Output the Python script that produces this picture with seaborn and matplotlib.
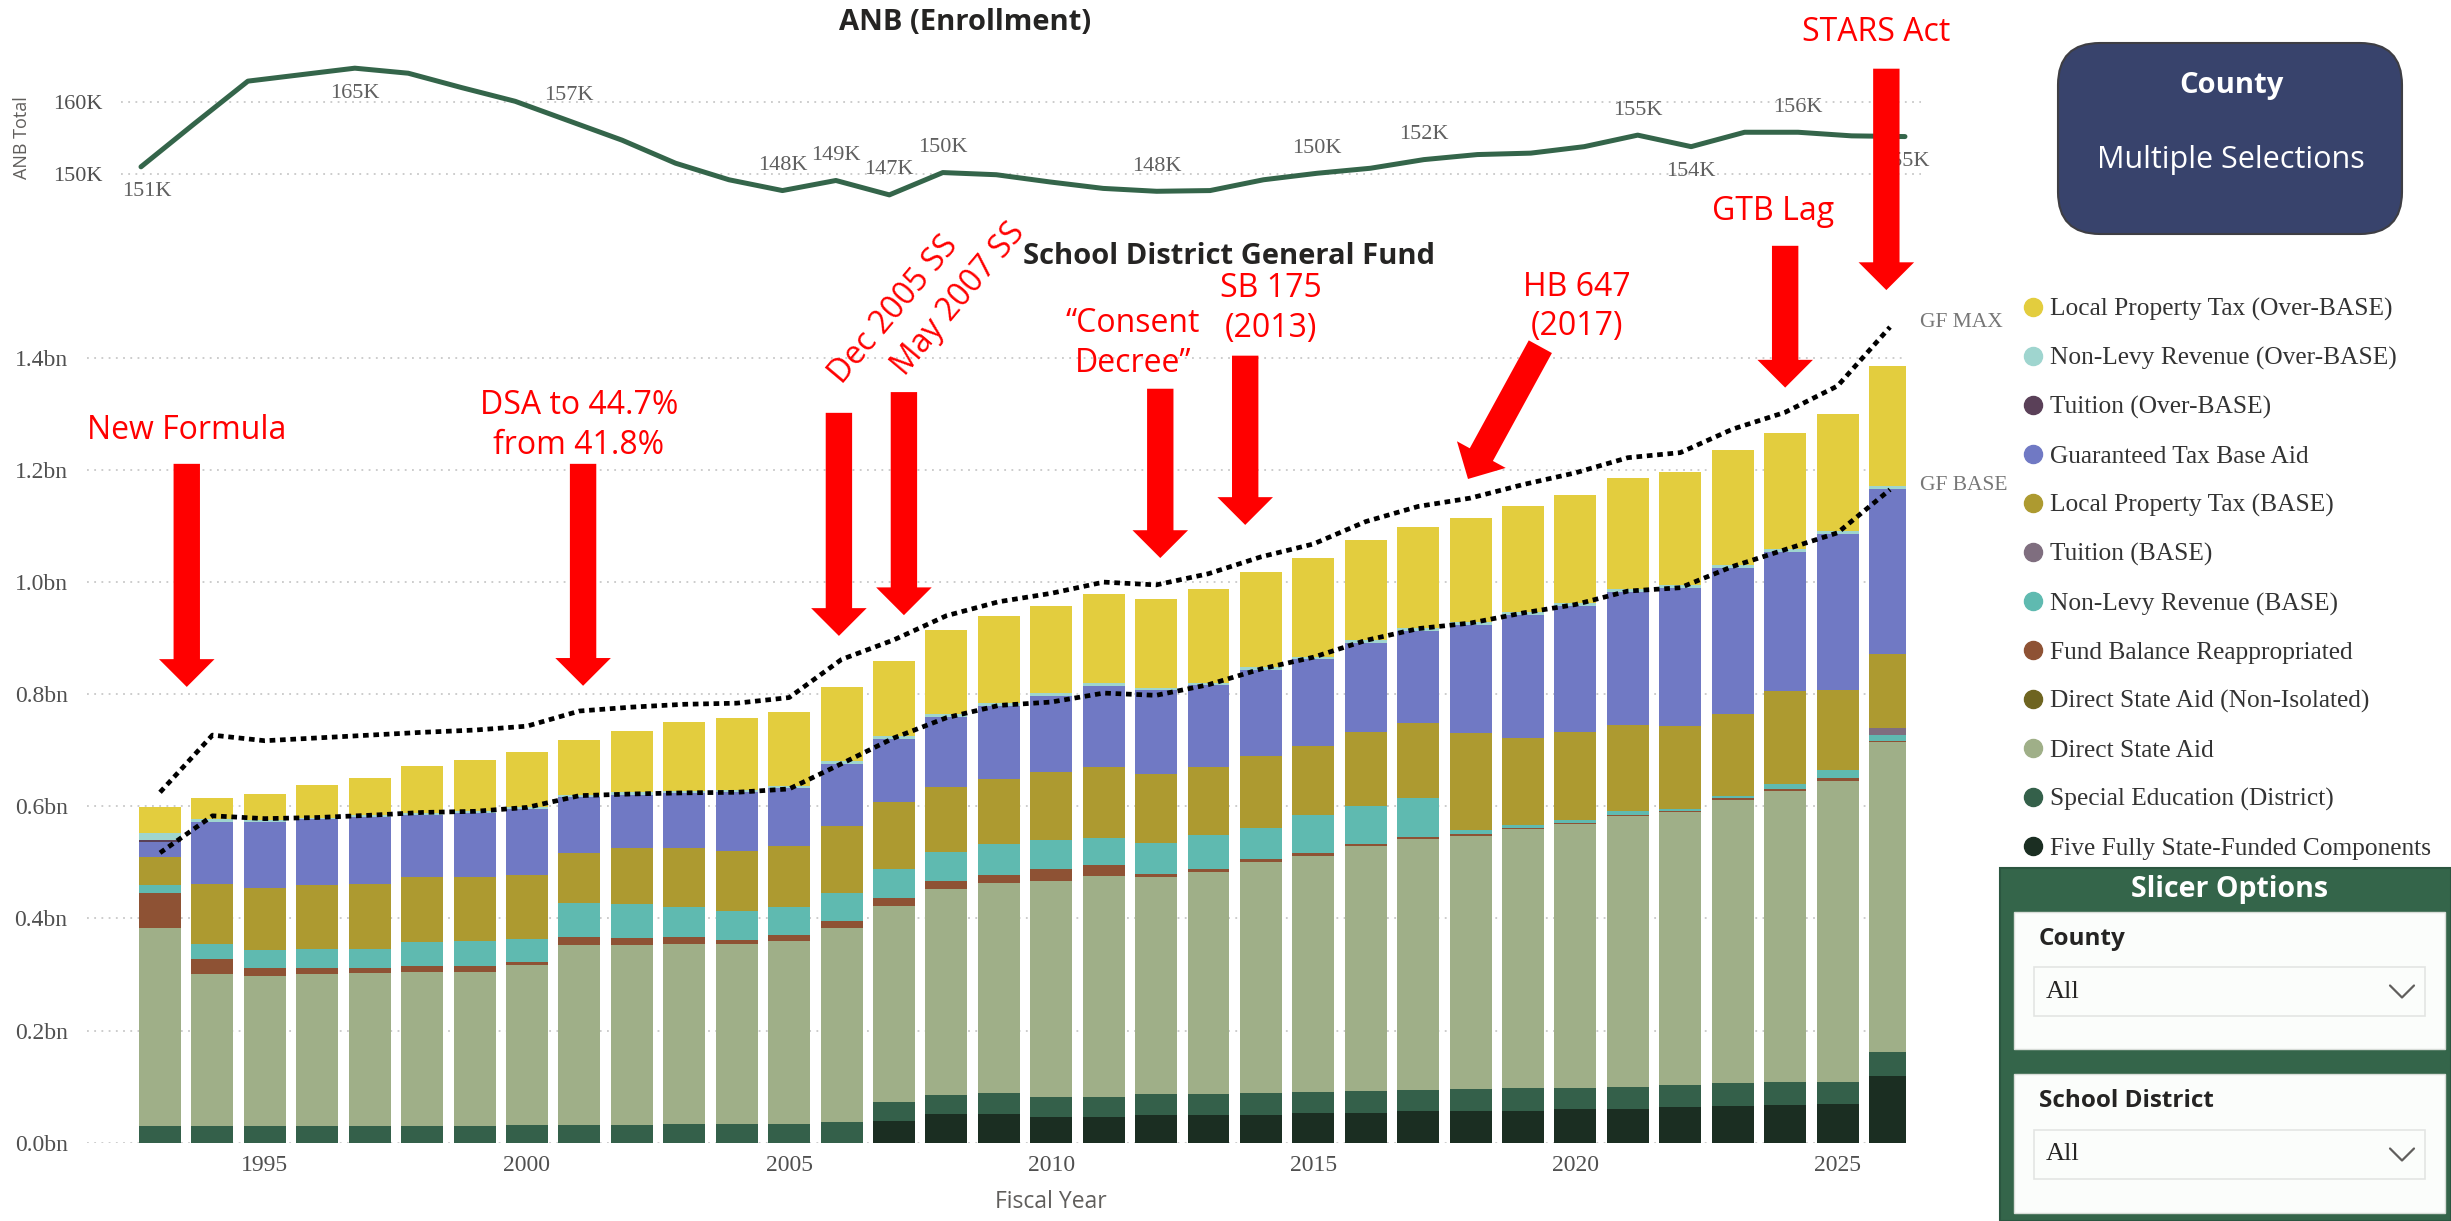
import matplotlib
matplotlib.use("Agg")
import matplotlib.pyplot as plt
from matplotlib.patches import FancyBboxPatch, Rectangle
from matplotlib.lines import Line2D
import numpy as np
import seaborn as sns

# ---- data ----
years = list(range(1993, 2027))

anb = [151.0, 157.0, 162.9, 163.8, 164.7, 164.0, 162.0, 160.1, 157.4, 154.7,
       151.5, 149.2, 147.7, 149.1, 147.1, 150.2, 149.9, 148.9, 148.0, 147.6,
       147.7, 149.2, 150.1, 150.8, 152.0, 152.7, 152.9, 153.8, 155.4, 153.8,
       155.8, 155.8, 155.3, 155.2]
# years that carry a data label, and whether the label sits above (1) or below (-1)
anb_label_years = [1993, 1997, 2001, 2005, 2006, 2007, 2008, 2012, 2015, 2017, 2021, 2022, 2024, 2026]
anb_label_side = [-1, -1, 1, 1, 1, 1, 1, 1, 1, 1, 1, -1, 1, -1]

five_fully = [0.0] * 14 + [0.038, 0.051, 0.051, 0.045, 0.045, 0.050, 0.049, 0.050, 0.053, 0.053,
                           0.056, 0.057, 0.057, 0.060, 0.060, 0.063, 0.066, 0.067, 0.068, 0.118]
special_ed = [0.030, 0.030, 0.030, 0.030, 0.030, 0.030, 0.030, 0.031, 0.032, 0.031,
              0.033, 0.033, 0.033, 0.036, 0.034, 0.034, 0.037, 0.037, 0.037, 0.036,
              0.037, 0.038, 0.038, 0.039, 0.038, 0.039, 0.040, 0.037, 0.040, 0.040,
              0.040, 0.041, 0.041, 0.043]
dsa = [0.353, 0.271, 0.268, 0.270, 0.273, 0.275, 0.275, 0.285, 0.321, 0.322,
       0.322, 0.322, 0.326, 0.347, 0.350, 0.368, 0.376, 0.385, 0.394, 0.388,
       0.397, 0.412, 0.420, 0.437, 0.447, 0.451, 0.462, 0.471, 0.483, 0.486,
       0.506, 0.519, 0.537, 0.553]
dsa_non_isolated = [0.0] * 34
fund_balance = [0.063, 0.026, 0.014, 0.011, 0.008, 0.010, 0.010, 0.007, 0.014, 0.012,
                0.012, 0.006, 0.011, 0.012, 0.014, 0.013, 0.014, 0.022, 0.019, 0.006,
                0.005, 0.006, 0.005, 0.003, 0.005, 0.004, 0.003, 0.002, 0.002, 0.002,
                0.002, 0.004, 0.004, 0.003]
nonlevy_base = [0.014, 0.028, 0.031, 0.035, 0.035, 0.043, 0.044, 0.041, 0.060, 0.060,
                0.054, 0.053, 0.051, 0.051, 0.052, 0.053, 0.054, 0.051, 0.049, 0.055,
                0.060, 0.056, 0.068, 0.069, 0.068, 0.007, 0.004, 0.006, 0.006, 0.004,
                0.004, 0.008, 0.014, 0.010]
tuition_base = [0.0] * 33 + [0.012]
lpt_base = [0.050, 0.106, 0.112, 0.114, 0.115, 0.115, 0.115, 0.114, 0.089, 0.100,
            0.104, 0.106, 0.108, 0.118, 0.120, 0.115, 0.117, 0.122, 0.127, 0.123,
            0.123, 0.127, 0.124, 0.132, 0.135, 0.172, 0.155, 0.157, 0.154, 0.148,
            0.147, 0.166, 0.144, 0.132]
gtb_aid = [0.027, 0.111, 0.117, 0.117, 0.120, 0.112, 0.114, 0.118, 0.100, 0.096,
           0.099, 0.105, 0.104, 0.112, 0.112, 0.126, 0.130, 0.135, 0.144, 0.149,
           0.145, 0.154, 0.154, 0.158, 0.164, 0.193, 0.221, 0.225, 0.238, 0.246,
           0.261, 0.249, 0.278, 0.295]
tuition_over = [0.003] + [0.0] * 33
nonlevy_over = [0.012, 0.005, 0.003, 0.003, 0.003, 0.003, 0.003, 0.003, 0.004, 0.004,
                0.004, 0.004, 0.004, 0.005, 0.005, 0.005, 0.005, 0.005, 0.005, 0.004,
                0.004, 0.005, 0.005, 0.005, 0.005, 0.005, 0.005, 0.005, 0.005, 0.005,
                0.005, 0.005, 0.005, 0.005]
lpt_over = [0.047, 0.037, 0.047, 0.058, 0.066, 0.084, 0.092, 0.097, 0.098, 0.109,
            0.123, 0.128, 0.132, 0.132, 0.134, 0.150, 0.155, 0.155, 0.159, 0.159,
            0.168, 0.170, 0.176, 0.179, 0.181, 0.186, 0.189, 0.192, 0.198, 0.202,
            0.204, 0.207, 0.209, 0.215]

gf_max = [0.625, 0.727, 0.717, 0.722, 0.727, 0.732, 0.736, 0.743, 0.770, 0.777,
          0.782, 0.784, 0.794, 0.862, 0.897, 0.940, 0.965, 0.980, 1.000, 0.995,
          1.015, 1.045, 1.068, 1.108, 1.135, 1.150, 1.174, 1.195, 1.222, 1.231,
          1.273, 1.303, 1.350, 1.455]
gf_base = [0.517, 0.583, 0.578, 0.580, 0.584, 0.589, 0.591, 0.598, 0.619, 0.622,
           0.624, 0.625, 0.631, 0.676, 0.722, 0.758, 0.780, 0.786, 0.802, 0.798,
           0.817, 0.845, 0.866, 0.896, 0.917, 0.927, 0.945, 0.960, 0.984, 0.990,
           1.028, 1.058, 1.088, 1.165]

# stack order, bottom to top
series = [
    ("Five Fully State-Funded Components", five_fully, "#1B2E22"),
    ("Special Education (District)", special_ed, "#34604A"),
    ("Direct State Aid", dsa, "#9FAF88"),
    ("Direct State Aid (Non-Isolated)", dsa_non_isolated, "#6E6420"),
    ("Fund Balance Reappropriated", fund_balance, "#8E5234"),
    ("Non-Levy Revenue (BASE)", nonlevy_base, "#5FBAB0"),
    ("Tuition (BASE)", tuition_base, "#7F6E7F"),
    ("Local Property Tax (BASE)", lpt_base, "#AD9A30"),
    ("Guaranteed Tax Base Aid", gtb_aid, "#7079C4"),
    ("Tuition (Over-BASE)", tuition_over, "#5A4058"),
    ("Non-Levy Revenue (Over-BASE)", nonlevy_over, "#9FD5CF"),
    ("Local Property Tax (Over-BASE)", lpt_over, "#E3CD3E"),
]

# event annotations: text, text pos, rotation, arrow tail, arrow tip (data units of the bar chart)
events = [
    ("New Formula", (1993.50, 1.270), 0, (1993.51, 1.211), (1993.51, 0.813)),
    ("DSA to 44.7%\nfrom 41.8%", (2000.99, 1.280), 0, (2001.07, 1.211), (2001.07, 0.815)),
    ("Dec 2005 SS", (2006.00, 1.352), 50, (2005.95, 1.302), (2005.95, 0.904)),
    ("May 2007 SS", (2007.20, 1.367), 50, (2007.19, 1.339), (2007.19, 0.941)),
    ("\u201cConsent\nDecree\u201d", (2011.56, 1.426), 0, (2012.08, 1.345), (2012.08, 1.043)),
    ("SB 175\n(2013)", (2014.19, 1.488), 0, (2013.70, 1.404), (2013.70, 1.102)),
    ("HB 647\n(2017)", (2020.03, 1.491), 0, (2019.33, 1.420), (2017.95, 1.184)),
    ("GTB Lag", (2023.77, 1.662), 0, (2024.00, 1.600), (2024.00, 1.347)),
    ("STARS Act", (2025.74, 1.980), 0, (2025.93, 1.916), (2025.93, 1.521)),
]

W, H = 2451, 1221
SANS = "Open Sans"
GRAY = "#605E5C"


def frac(x0, y0, x1, y1):
    """pixel box (top-left origin) -> figure fraction rect"""
    return [x0 / W, 1 - y1 / H, (x1 - x0) / W, (y1 - y0) / H]


def inch(x, y):
    return x / 100, (H - y) / 100


sns.set_theme(style="white")
plt.rcParams["font.family"] = ["Liberation Serif", "DejaVu Sans"]

fig = plt.figure(figsize=(W / 100, H / 100), dpi=100)
fig.patch.set_facecolor("white")

# ---- ANB line chart ----
ax_top = fig.add_axes(frac(121, 45, 1921, 210))
ax_top.set_facecolor("none")
sns.lineplot(x=years, y=anb, color="#34654A", lw=3.6, ax=ax_top)
ax_top.set_xlim(1992.626, 2026.30)
ax_top.set_ylim(145.0, 167.92)
ax_top.set_xticks([])
ax_top.set_yticks([150, 160])
ax_top.set_yticklabels(["150K", "160K"], fontsize=16, color="#505050")
ax_top.tick_params(axis="y", length=0, pad=13)
ax_top.yaxis.grid(True, linestyle=(0, (1, 3)), color="#c8c8c8", lw=1.3)
ax_top.set_axisbelow(True)
sns.despine(ax=ax_top, left=True, bottom=True)
for yr, side in zip(anb_label_years, anb_label_side):
    v = anb[years.index(yr)]
    dx = 4 if yr == 1993 else 0
    ax_top.annotate(f"{round(v)}K", (yr, v), xytext=(dx, 18 * side), textcoords="offset points",
                    ha="center", va="center", fontsize=16, color="#606060")

fig.text(965 / W, 1 - 22 / H, "ANB (Enrollment)", family=SANS, weight="bold", fontsize=21,
         color="#252423", ha="center", va="center")
fig.text(22 / W, 1 - 138 / H, "ANB Total", family=SANS, fontsize=13, color=GRAY,
         rotation=90, ha="center", va="center")

# ---- stacked bar chart ----
ax = fig.add_axes(frac(87, 280, 1906, 1142.6))
ax.set_facecolor("none")
cum = np.cumsum(np.array([s[1] for s in series]), axis=0)
for (name, vals, col), top in reversed(list(zip(series, cum))):
    sns.barplot(x=years, y=top, color=col, width=0.8, native_scale=True, saturation=1,
                errorbar=None, linewidth=0, ax=ax)

sns.lineplot(x=years, y=gf_max, color="black", lw=3.4, linestyle=(0, (1.2, 1.0)), ax=ax, zorder=5)
sns.lineplot(x=years, y=gf_base, color="black", lw=3.4, linestyle=(0, (1.2, 1.0)), ax=ax, zorder=5)

ax.set_xlim(1991.607, 2026.305)
ax.set_ylim(0, 1.539)
ax.set_xticks([1995, 2000, 2005, 2010, 2015, 2020, 2025])
ax.set_xticklabels(["1995", "2000", "2005", "2010", "2015", "2020", "2025"], fontsize=17, color="#505050")
ax.set_yticks(np.arange(0, 1.41, 0.2))
ax.set_yticklabels([f"{v:.1f}bn" for v in np.arange(0, 1.41, 0.2)], fontsize=17, color="#505050")
ax.tick_params(axis="x", length=0, pad=9)
ax.tick_params(axis="y", length=0, pad=14)
ax.set_xlabel("")
ax.set_ylabel("")
ax.yaxis.grid(True, linestyle=(0, (1, 3)), color="#c8c8c8", lw=1.3)
ax.xaxis.grid(False)
ax.set_axisbelow(True)
sns.despine(ax=ax, left=True, bottom=True)

ax.text(2026.575, gf_max[-1] + 0.008, "GF MAX", fontsize=15.5, color="#777777", ha="left", va="center", clip_on=False)
ax.text(2026.575, gf_base[-1] + 0.007, "GF BASE", fontsize=15.5, color="#777777", ha="left", va="center", clip_on=False)

fig.text(1229 / W, 1 - 257 / H, "School District General Fund", family=SANS, weight="bold",
         fontsize=21, color="#252423", ha="center", va="center")
fig.text(1051 / W, 1 - 1202 / H, "Fiscal Year", family=SANS, fontsize=16.5, color=GRAY,
         ha="center", va="center")

# red event arrows
for text, txy, rot, tail, tip in events:
    ax.annotate("", xy=tip, xytext=tail, annotation_clip=False, zorder=10,
                arrowprops=dict(arrowstyle="simple,head_length=20,head_width=40,tail_width=19",
                                mutation_scale=1, color="#FF0000", lw=0, shrinkA=0, shrinkB=0))
    if rot:
        ax.text(txy[0], txy[1], text, family=SANS, fontsize=23, color="#FF0000", rotation=rot,
                rotation_mode="anchor", ha="left", va="baseline", clip_on=False, zorder=10)
    else:
        ax.text(txy[0], txy[1], text, family=SANS, fontsize=23, color="#FF0000", ha="center",
                va="center", linespacing=1.27, clip_on=False, zorder=10)

# legend (top to bottom = reverse stack order)
handles = [Line2D([], [], marker="o", ls="none", color=c, markersize=13) for _, _, c in reversed(series)]
labels = [n for n, _, _ in reversed(series)]
fig.legend(handles, labels, loc="upper left", bbox_to_anchor=(2023 / W, 1 - 298 / H), frameon=False,
           fontsize=18.3, handlelength=0.8, handletextpad=0.25, labelspacing=1.02, borderpad=0,
           borderaxespad=0, labelcolor="#333333")

# ---- County card ----
x0, y0 = inch(2058, 234)
card = FancyBboxPatch((x0, y0), (2402 - 2058) / 100, (234 - 43) / 100,
                      boxstyle="round,pad=0,rounding_size=0.42", transform=fig.dpi_scale_trans,
                      fc="#38436C", ec="#3E3E44", lw=1.5)
fig.add_artist(card)
fig.text(*inch(2231, 86), "County", transform=fig.dpi_scale_trans, family=SANS, weight="bold",
         fontsize=21, color="white", ha="center", va="center")
fig.text(*inch(2231, 160), "Multiple Selections", transform=fig.dpi_scale_trans, family=SANS,
         fontsize=22, color="white", ha="center", va="center")

# ---- Slicer Options panel ----
panel = Rectangle(inch(2000, 1221), 4.51, (1221 - 868) / 100, transform=fig.dpi_scale_trans,
                  fc="#34654A", ec="#2B5640", lw=1.5)
fig.add_artist(panel)
fig.text(*inch(2230, 890), "Slicer Options", transform=fig.dpi_scale_trans, family=SANS,
         weight="bold", fontsize=20.5, color="white", ha="center", va="center")
for (by0, by1), title, (dy0, dy1) in [((912, 1049), "County", (967, 1016)),
                                      ((1074, 1213), "School District", (1130, 1179))]:
    fig.add_artist(Rectangle(inch(2014, by1), (2445 - 2014) / 100, (by1 - by0) / 100,
                             transform=fig.dpi_scale_trans, fc="#FBFDFB", ec="#D8DDD8", lw=1))
    fig.add_artist(Rectangle(inch(2034, dy1), (2425 - 2034) / 100, (dy1 - dy0) / 100,
                             transform=fig.dpi_scale_trans, fc="#FBFDFB", ec="#E3E5E3", lw=1.2))
    fig.text(*inch(2039, by0 + 27), title, transform=fig.dpi_scale_trans, family=SANS,
             weight="bold", fontsize=17.5, color="#252423", ha="left", va="center")
    cy = (dy0 + dy1) / 2
    fig.text(*inch(2046, cy), "All", transform=fig.dpi_scale_trans, fontsize=19,
             color="#252423", ha="left", va="center")
    cx = 2402
    fig.add_artist(Line2D([(cx - 12) / 100, cx / 100, (cx + 12) / 100],
                          [(H - cy + 6) / 100, (H - cy - 6) / 100, (H - cy + 6) / 100],
                          transform=fig.dpi_scale_trans, color="#605E5C", lw=1.6))

fig.savefig("out.png", dpi=100, facecolor="white")
